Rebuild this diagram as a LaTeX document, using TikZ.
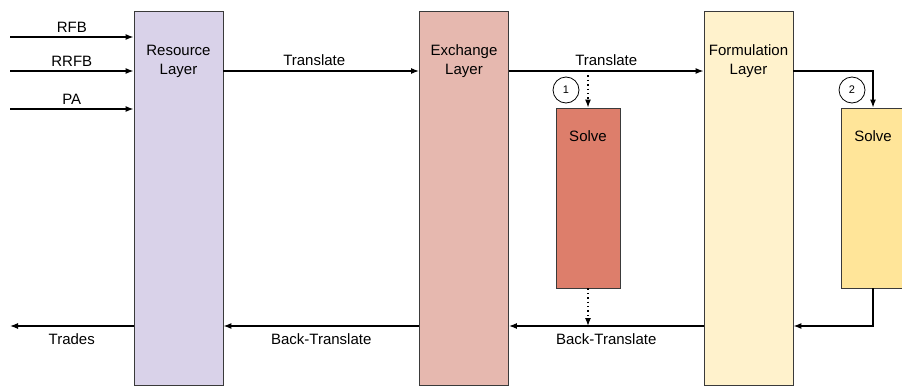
\documentclass[tikz,border=0pt]{standalone}
\usepackage{fontspec}
\setmainfont{Liberation Sans}
\usetikzlibrary{arrows.meta}
\definecolor{resfill}{HTML}{D9D2E9}
\definecolor{excfill}{HTML}{E6B8AF}
\definecolor{formfill}{HTML}{FFF2CC}
\definecolor{solvefillA}{HTML}{DD7E6B}
\definecolor{solvefillB}{HTML}{FFE599}
\definecolor{edgegray}{HTML}{3A3A3A}
\begin{document}
\begin{tikzpicture}[x=1pt, y=-1pt,
		every node/.style={font=\fontsize{15}{19}\selectfont},
		layer/.style={draw=edgegray, line width=0.9pt, minimum width=89pt, minimum height=374pt, inner sep=0pt},
		solvebox/.style={draw=edgegray, line width=0.9pt, minimum width=64pt, minimum height=180pt, inner sep=0pt},
		flow/.style={line width=1.2pt, -{Latex[length=8pt,width=6pt]}},
		dotflow/.style={line width=1.2pt, dash pattern=on 1.4pt off 3pt, -{Latex[length=8pt,width=6pt]}},
		numcirc/.style={circle, draw, line width=0.8pt, minimum size=26pt, inner sep=0pt, font=\fontsize{11}{13}\selectfont}]
		%%%%% START %%%%%
		
		\useasboundingbox (0,0) rectangle (902,386);
		
		% layers
		\node[layer, fill=resfill, label={[anchor=north, align=center, yshift=-31pt]north:{Resource\\Layer}}] (res) at (178.5,198) {};
		\node[layer, fill=excfill, label={[anchor=north, align=center, yshift=-31pt]north:{Exchange\\Layer}}] (exc) at (464,198) {};
		\node[layer, fill=formfill, label={[anchor=north, align=center, yshift=-31pt]north:{Formulation\\Layer}}] (form) at (748.5,198) {};
		
		% solvers
		\node[solvebox, fill=solvefillA, label={[anchor=north, yshift=-20pt]north:Solve}] (solveA) at (588,198) {};
		\node[solvebox, fill=solvefillB, label={[anchor=north, yshift=-20pt]north:Solve}] (solveB) at (873,198) {};
		
		\node[numcirc] (one) at (566,90) {1};
		\node[numcirc] (two) at (852,90) {2};
		
		% rows
		\coordinate (rfb) at (10,37);
		\coordinate (rrfb) at (10,71);
		\coordinate (pa) at (10,109);
		\coordinate (top) at (0,71);
		\coordinate (bot) at (0,326);
		\coordinate (trades) at (10,326);
		
		\draw[flow] (rfb) -- (rfb -| res.west) node[midway, above=1pt] {RFB};
		\draw[flow] (rrfb) -- (rrfb -| res.west) node[midway, above=1pt] {RRFB};
		\draw[flow] (pa) -- (pa -| res.west) node[midway, above=1pt] {PA};
		
		\draw[flow] (res.east |- top) -- (exc.west |- top) node[midway, above=1pt, xshift=-7pt] {Translate};
		\draw[flow] (exc.east |- top) -- (form.west |- top) node[midway, above=1pt] {Translate};
		\draw[dotflow] (solveA.north |- top) -- (solveA.north);
		\draw[flow] (form.east |- top) -| (solveB.north);
		
		\draw[flow] (solveB.south) |- (form.east |- bot);
		\draw[dotflow] (solveA.south) -- (solveA.south |- bot);
		\draw[flow] (form.west |- bot) -- (exc.east |- bot) node[midway, below=4pt] {Back-Translate};
		\draw[flow] (exc.west |- bot) -- (res.east |- bot) node[midway, below=4pt] {Back-Translate};
		\draw[flow] (res.west |- bot) -- (trades) node[midway, below=4pt] {Trades};
		
		%%%%% END %%%%%
\end{tikzpicture}
\end{document}
